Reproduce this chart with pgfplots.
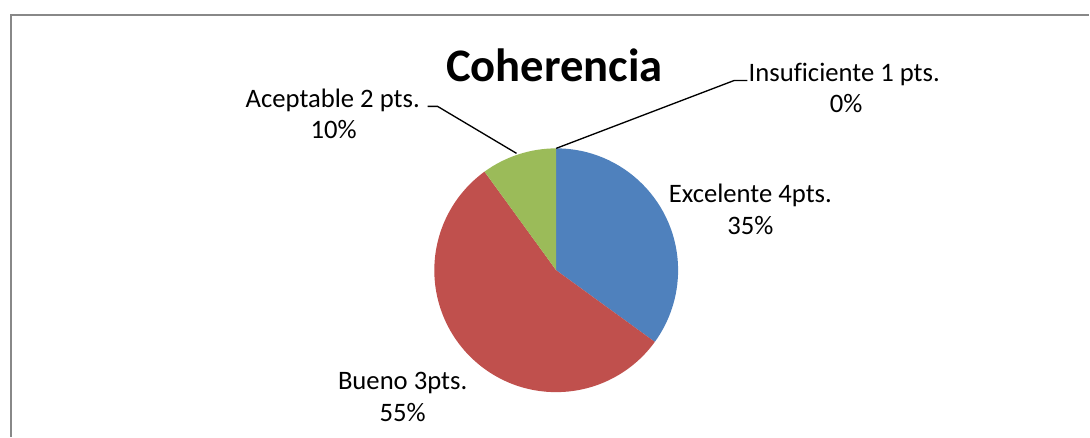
\documentclass[border=0pt]{standalone}
\usepackage{pgfplots}
\pgfplotsset{compat=1.18}
\usepackage{fontspec}
\setmainfont{Carlito}[Ligatures=NoCommon]
\definecolor{pieblue}{HTML}{4F81BD}
\definecolor{piered}{HTML}{C0504D}
\definecolor{piegreen}{HTML}{9BBB59}
\definecolor{framegray}{HTML}{888888}

% slice values (percent), clockwise from 12 o'clock
\def\vExcelente{35}
\def\vBueno{55}
\def\vAceptable{10}
\def\vInsuficiente{0}

\begin{document}
\begin{tikzpicture}[
    lbl/.style={font=\fontsize{20}{23}\selectfont, anchor=base, inner sep=0pt},
]
\pgfmathsetmacro{\aA}{90}
\pgfmathsetmacro{\aB}{90-3.6*\vExcelente}
\pgfmathsetmacro{\aC}{\aB-3.6*\vBueno}
\pgfmathsetmacro{\aD}{\aC-3.6*\vAceptable}
\begin{axis}[
    width=817.5pt, height=327.75pt, scale only axis,
    xmin=0, xmax=1090, ymin=0, ymax=437, y dir=reverse,
    hide axis, clip=false,
]
\path (axis cs:0,0) rectangle (axis cs:1090,437);
% chart frame
\draw[framegray, line width=1.5pt] (axis cs:11,437) -- (axis cs:11,15) -- (axis cs:1090,15);

% pie slices
\fill[pieblue] (axis cs:556.7,270.5) -- ++(\aA:91.5pt) arc[start angle=\aA, end angle=\aB, radius=91.5pt] -- cycle;
\fill[piered] (axis cs:556.7,270.5) -- ++(\aB:91.5pt) arc[start angle=\aB, end angle=\aC, radius=91.5pt] -- cycle;
\fill[piegreen] (axis cs:556.7,270.5) -- ++(\aC:91.5pt) arc[start angle=\aC, end angle=\aD, radius=91.5pt] -- cycle;

% leader lines
\draw[black, line width=1pt] (axis cs:556.7,148.5) -- (axis cs:735,80.5) -- (axis cs:748,80.5);
\draw[black, line width=1pt] (axis cs:517,153.5) -- (axis cs:438,106.5) -- (axis cs:428,106.5);

% title
\node[font=\fontsize{35}{42}\selectfont\bfseries, anchor=base, inner sep=0pt] at (axis cs:555,82) {Coherencia};

% labels
\node[lbl] at (axis cs:845,82) {Insuficiente 1 pts.};
\node[lbl] at (axis cs:847,113) {0\%};
\node[lbl] at (axis cs:333,108) {Aceptable 2 pts.};
\node[lbl] at (axis cs:334,139) {10\%};
\node[lbl] at (axis cs:751,203) {Excelente 4pts.};
\node[lbl] at (axis cs:751,235) {35\%};
\node[lbl] at (axis cs:403,390) {Bueno 3pts.};
\node[lbl] at (axis cs:403,422) {55\%};
\end{axis}
\end{tikzpicture}
\end{document}
